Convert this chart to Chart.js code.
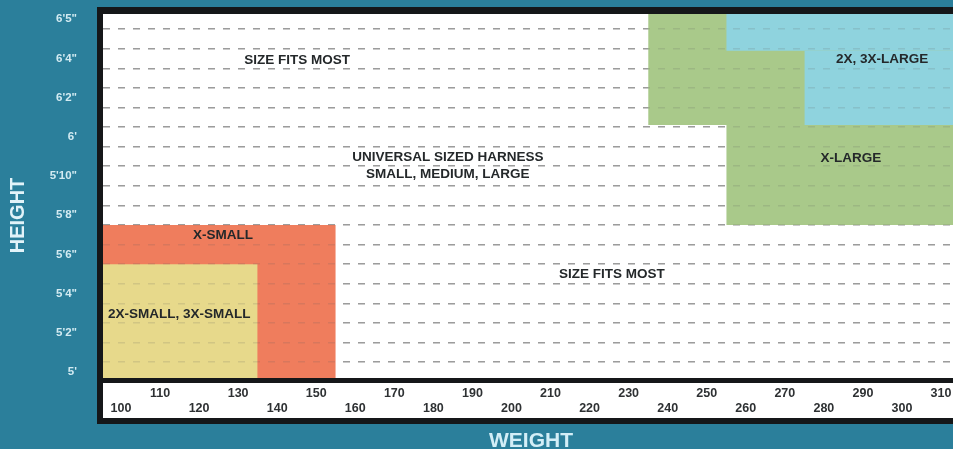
<!DOCTYPE html>
<html>
<head>
<meta charset="utf-8">
<title>Harness size chart</title>
<script src="https://cdn.jsdelivr.net/npm/chart.js@4.4.1/dist/chart.umd.min.js"></script>
<style>
    html, body { margin: 0; padding: 0; overflow: hidden; background: #2b7f9b; }
    #wrap { width: 975px; height: 449px; }
</style>
</head>
<body>
<div id="wrap"><canvas id="sizeChart" width="975" height="449"></canvas></div>
<script>
// weight axis (lbs)
const weightTicks = [100, 110, 120, 130, 140, 150, 160, 170, 180, 190, 200, 210, 220, 230, 240, 250, 260, 270, 280, 290, 300, 310];
const weightMin = 95.4;
const weightMax = 314.6;

// height axis (inches), labels as printed on the chart
const heightTicks = [60, 62, 64, 66, 68, 70, 72, 74, 76, 78];
const heightLabels = ["5'", "5'2\"", "5'4\"", "5'6\"", "5'8\"", "5'10\"", "6'", "6'2\"", "6'4\"", "6'5\""];
const heightMin = 59.69;
const heightMax = 78.27;
const heightGrid = [60.5, 61.5, 62.5, 63.5, 64.5, 65.5, 66.5, 67.5, 68.5, 69.5, 70.5, 71.5, 72.5, 73.5, 74.5, 75.5, 76.5, 77.5];

// size zones, one rectangle per entry
const zoneNames = ['X-SMALL', '2X-SMALL, 3X-SMALL', 'X-LARGE', 'X-LARGE', '2X, 3X-LARGE', '2X, 3X-LARGE'];
const zoneWeightFrom = [95, 95, 235, 255, 255, 275];
const zoneWeightTo = [155, 135, 315, 315, 315, 315];
const zoneHeightFrom = [59, 59, 72.6, 67.5, 76.4, 72.6];
const zoneHeightTo = [67.5, 65.5, 79, 72.6, 79, 76.4];

// text written inside the chart
const noteTexts = [['SIZE FITS MOST'], ['UNIVERSAL SIZED HARNESS', 'SMALL, MEDIUM, LARGE'], ['X-SMALL'], ['2X-SMALL, 3X-SMALL'], ['SIZE FITS MOST'], ['2X, 3X-LARGE'], ['X-LARGE']];
const noteWeights = [145.1, 183.7, 126.1, 114.9, 225.7, 294.9, 286.9];
const noteHeights = [75.9, 70.5, 66.95, 62.95, 65.0, 75.95, 70.9];

const zoneColors = {
    'X-SMALL': '#ef7d5d',
    '2X-SMALL, 3X-SMALL': '#e7d98b',
    'X-LARGE': '#a9c98a',
    '2X, 3X-LARGE': '#8fd3de'
};
const zoneOrder = {
    'X-SMALL': 4,
    '2X-SMALL, 3X-SMALL': 3,
    'X-LARGE': 2,
    '2X, 3X-LARGE': 1
};

// frame: black border, white plot and white tick strip
const framePlugin = {
    id: 'frame',
    beforeDraw: chart => {
        const c = chart.ctx;
        const a = chart.chartArea;
        c.save();
        c.fillStyle = '#2b7f9b';
        c.fillRect(0, 0, chart.width, chart.height);
        c.fillStyle = '#151719';
        c.fillRect(a.left - 6, a.top - 7, a.right - a.left + 12, a.bottom - a.top + 53);
        c.fillStyle = '#ffffff';
        c.fillRect(a.left, a.top, a.right - a.left, a.bottom - a.top);
        c.fillRect(a.left, a.bottom + 5, a.right - a.left, 35);
        c.restore();
    }
};

// zone names and notes
const notesPlugin = {
    id: 'notes',
    afterDatasetsDraw: chart => {
        const c = chart.ctx;
        const xs = chart.scales.x;
        const ys = chart.scales.y;
        c.save();
        c.fillStyle = '#24282a';
        c.font = 'bold 13.5px "Liberation Sans", Arial, sans-serif';
        c.textAlign = 'center';
        c.textBaseline = 'middle';
        noteTexts.forEach((lines, i) => {
            const px = xs.getPixelForValue(noteWeights[i]);
            const py = ys.getPixelForValue(noteHeights[i]);
            lines.forEach((t, j) => {
                c.fillText(t, px, py + (j - (lines.length - 1) / 2) * 17);
            });
        });
        c.restore();
    }
};

const zoneDatasets = zoneNames.map((name, i) => ({
    label: name,
    data: [
        { x: zoneWeightFrom[i], y: zoneHeightTo[i] },
        { x: zoneWeightTo[i], y: zoneHeightTo[i] }
    ],
    showLine: true,
    borderWidth: 0,
    pointRadius: 0,
    backgroundColor: zoneColors[name],
    fill: { value: zoneHeightFrom[i] },
    order: zoneOrder[name]
}));

const noPad = s => { s.paddingTop = 0; s.paddingBottom = 0; };

var ctx = document.getElementById('sizeChart');
var myChart = new Chart(ctx, {
    type: 'scatter',
    data: { datasets: zoneDatasets },
    plugins: [framePlugin, notesPlugin],
    options: {
        responsive: false,
        animation: false,
        layout: { padding: { top: 14, right: 16, bottom: 0, left: 0 } },
        plugins: {
            legend: { display: false },
            tooltip: { enabled: false }
        },
        scales: {
            x: {
                type: 'linear',
                min: weightMin,
                max: weightMax,
                afterBuildTicks: s => { s.ticks = weightTicks.map(v => ({ value: v })); },
                afterFit: s => { s.height = 71; },
                grid: { display: false, drawTicks: false },
                border: { display: false },
                ticks: {
                    autoSkip: false,
                    maxRotation: 0,
                    padding: 8,
                    color: '#2e3133',
                    font: { family: '"Liberation Sans", Arial, sans-serif', size: 12.5, weight: 'bold', lineHeight: 1.2 },
                    callback: v => (v / 10) % 2 === 1 ? [String(v), ''] : ['', String(v)]
                },
                title: {
                    display: true,
                    text: 'WEIGHT',
                    color: '#d3eef7',
                    padding: { top: 0, bottom: -3 },
                    font: { family: '"Liberation Sans", Arial, sans-serif', size: 21, weight: 'bold', lineHeight: 1 }
                }
            },
            y: {
                type: 'linear',
                min: heightMin,
                max: heightMax,
                afterBuildTicks: s => { s.ticks = heightTicks.map(v => ({ value: v })); },
                afterFit: s => { s.width = 103; noPad(s); },
                grid: { display: false, drawTicks: false },
                border: { display: false },
                ticks: {
                    padding: 26,
                    color: '#d3ebf2',
                    font: { family: '"Liberation Sans", Arial, sans-serif', size: 11.5, weight: 'bold' },
                    callback: (v, i) => heightLabels[i]
                },
                title: {
                    display: true,
                    // trailing spaces push the rotated title a little lower, as in the original
                    text: 'HEIGHT       ',
                    color: '#e2f3f9',
                    padding: { top: 6, bottom: 0 },
                    font: { family: '"Liberation Sans", Arial, sans-serif', size: 20, weight: 'bold', lineHeight: 1.2 }
                }
            },
            yGrid: {
                type: 'linear',
                position: 'right',
                min: heightMin,
                max: heightMax,
                afterBuildTicks: s => { s.ticks = heightGrid.map(v => ({ value: v })); },
                afterFit: s => { s.width = 0; noPad(s); },
                border: { display: false, dash: [7, 8] },
                ticks: { display: false },
                grid: { drawTicks: false, color: '#a9a9a9', lineWidth: 1.5 }
            },
            yGridTop: {
                type: 'linear',
                position: 'right',
                min: heightMin,
                max: heightMax,
                afterBuildTicks: s => { s.ticks = heightGrid.map(v => ({ value: v })); },
                afterFit: s => { s.width = 0; noPad(s); },
                border: { display: false, dash: [7, 8] },
                ticks: { display: false },
                grid: { z: 1, drawTicks: false, color: 'rgba(95, 95, 95, 0.16)', lineWidth: 1.5 }
            }
        }
    }
});
</script>
</body>
</html>
